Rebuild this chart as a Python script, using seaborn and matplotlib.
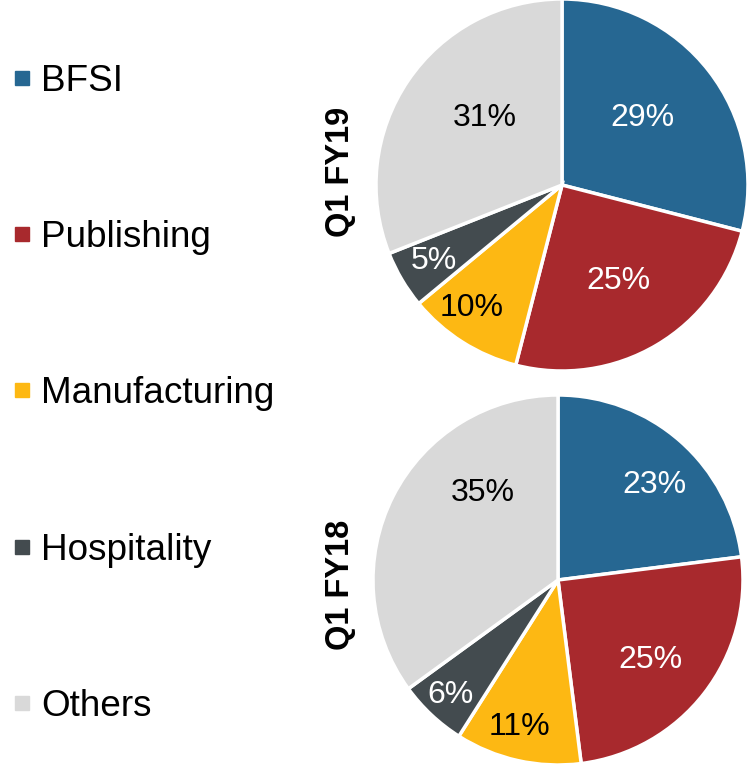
import matplotlib
matplotlib.use("Agg")
import matplotlib.pyplot as plt
import seaborn as sns
import numpy as np
from matplotlib.lines import Line2D

# ---- data ----
categories = ["BFSI", "Publishing", "Manufacturing", "Hospitality", "Others"]
q1_fy19 = [29, 25, 10, 5, 31]
q1_fy18 = [23, 25, 11, 6, 35]
titles = ["Q1 FY19", "Q1 FY18"]

# ---- styles ----
sns.set_theme(style="white")
plt.rcParams["font.family"] = ["Liberation Sans", "DejaVu Sans"]
plt.rcParams["text.color"] = "black"
colors = sns.color_palette(["#266792", "#A8292D", "#FDB813", "#434B4F", "#D9D9D9"])
text_colors = ["white", "white", "black", "white", "black"]
label_dist = [[0.56, 0.60, 0.82, 0.80, 0.55],
              [0.735, 0.66, 0.82, 0.85, 0.62]]
label_shift = [[2, 0, -4, 0, -7],
               [-4, -3, -2, 0, -22]]

W, H = 749, 767
fig = plt.figure(figsize=(W / 100, H / 100), dpi=100)


def add_ax(cx, cy, r):
    return fig.add_axes([(cx - r) / W, 1 - (cy + r) / H, 2 * r / W, 2 * r / H])


pies = [(q1_fy19, add_ax(562, 185, 186), (340, 172)),
        (q1_fy18, add_ax(558, 580, 185), (340, 585))]

for k, (vals, ax, tpos) in enumerate(pies):
    wedges, _ = ax.pie(vals, colors=colors, startangle=90, counterclock=False,
                       radius=1.0,
                       wedgeprops=dict(edgecolor="white", linewidth=2.5))
    for i, w in enumerate(wedges):
        ang = np.deg2rad((w.theta1 + w.theta2) / 2 + label_shift[k][i])
        d = label_dist[k][i]
        ax.text(d * np.cos(ang), d * np.sin(ang), f"{vals[i]}%",
                ha="center", va="center", fontsize=23, color=text_colors[i])
    ax.set_xlim(-1.0, 1.0)
    ax.set_ylim(-1.0, 1.0)
    ax.axis("off")
    fig.text(tpos[0] / W, 1 - tpos[1] / H, titles[k], rotation=90,
             ha="center", va="center", fontsize=23.5, fontweight="bold",
             color="black")

handles = [Line2D([], [], marker="s", linestyle="none", markersize=10,
                  markerfacecolor=c, markeredgecolor=c) for c in colors]
fig.legend(handles, categories, loc="upper left",
           bbox_to_anchor=(11 / W, 1 - 64 / H), frameon=False,
           fontsize=26.6, borderpad=0, borderaxespad=0,
           handlelength=0.6, handletextpad=0.22, labelspacing=3.28,
           labelcolor="black")

fig.savefig("out.png", dpi=100, facecolor="white")
